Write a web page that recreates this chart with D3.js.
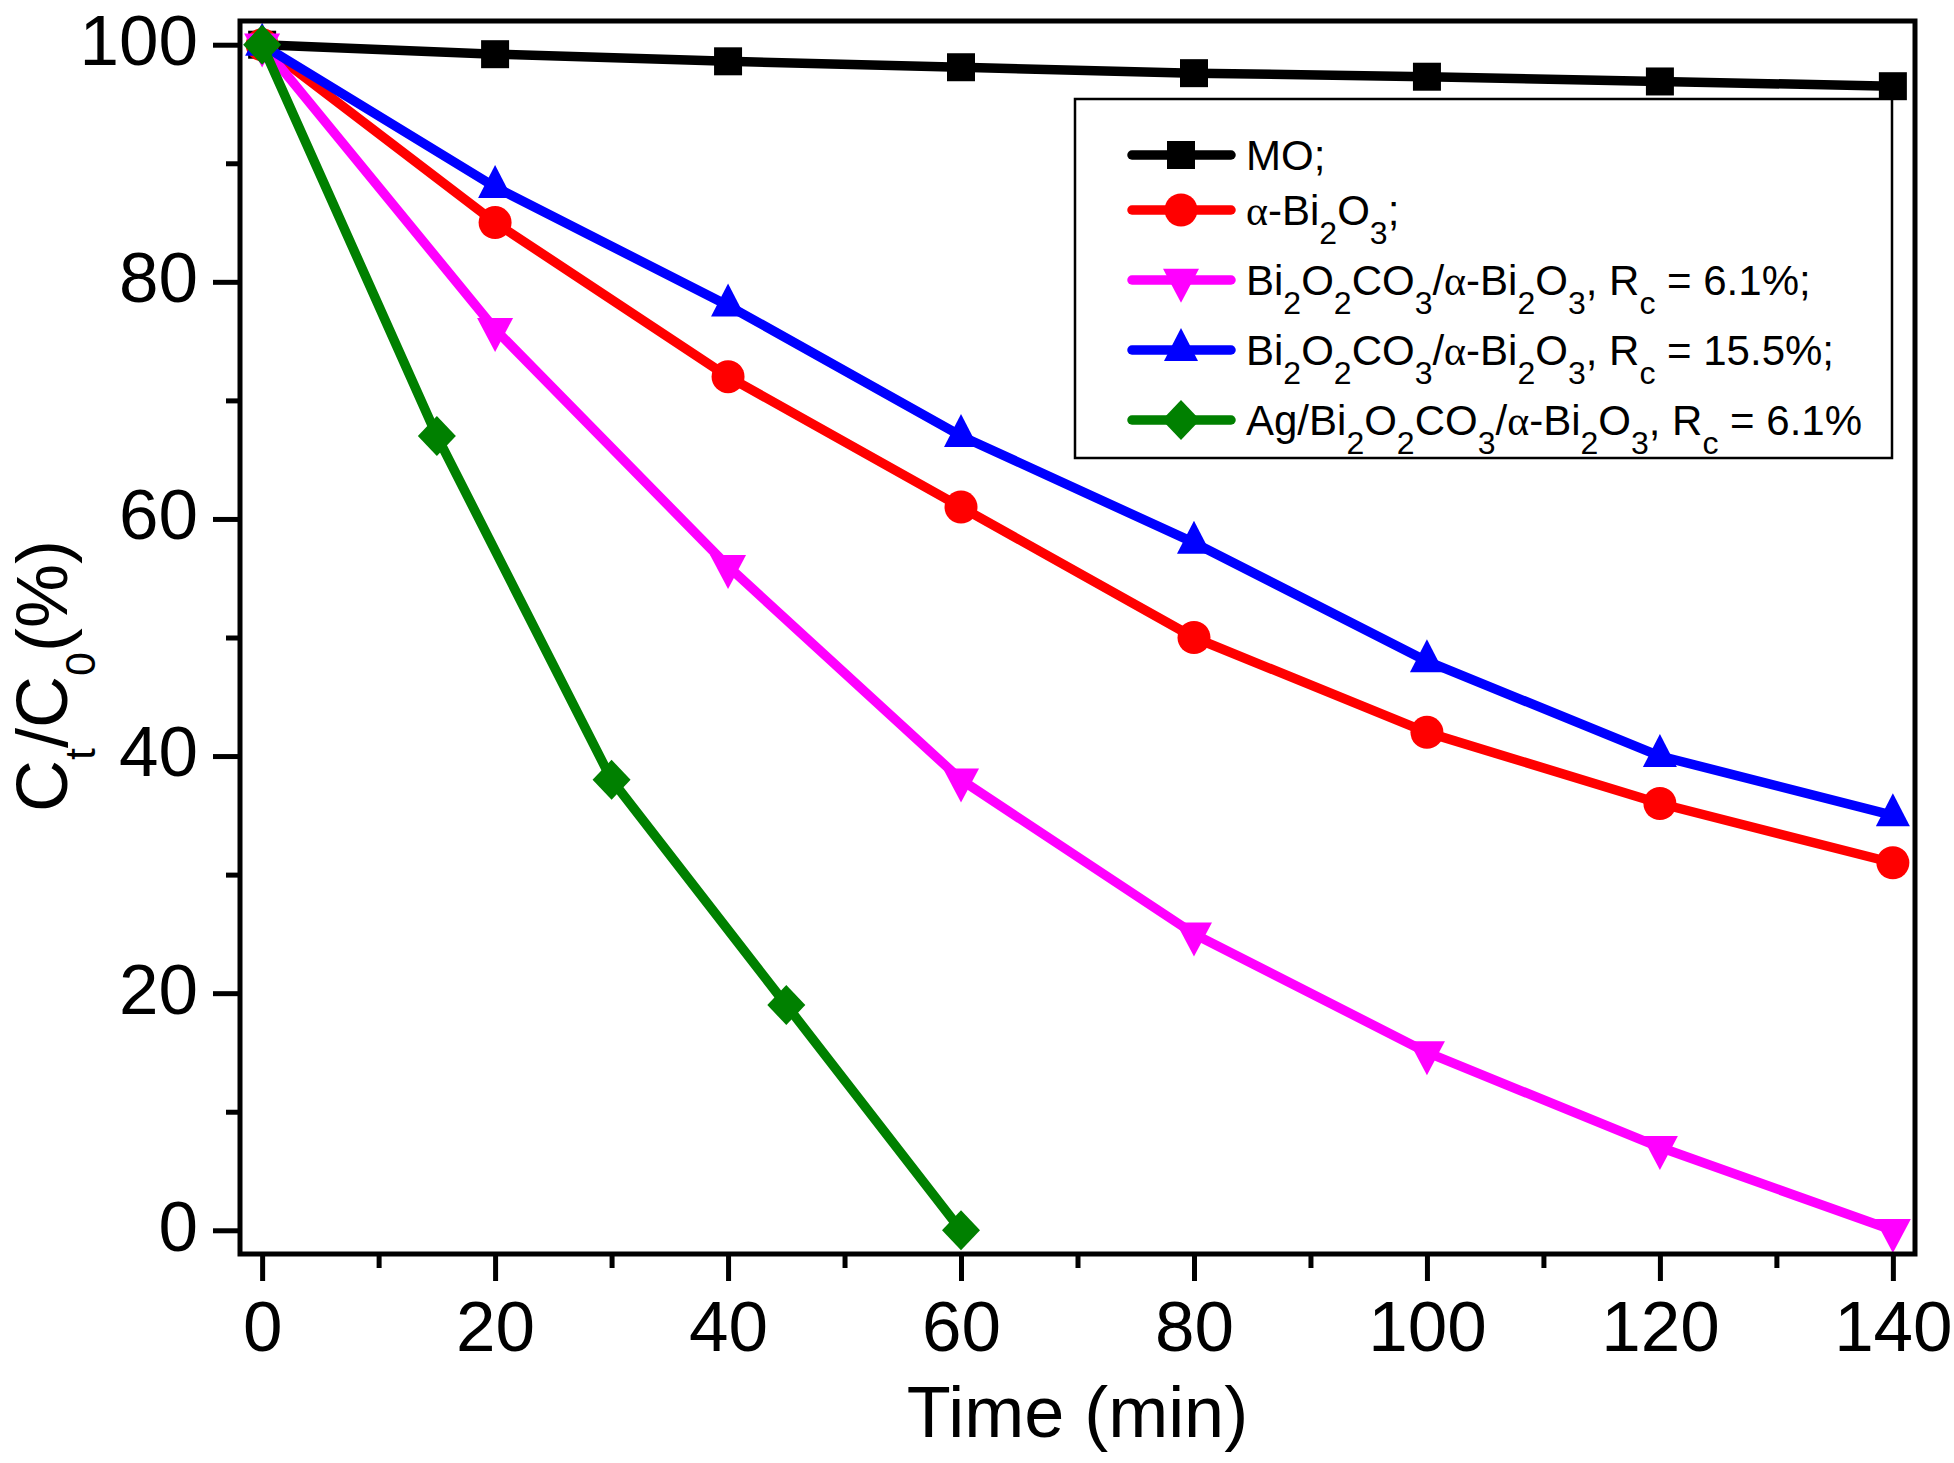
<!DOCTYPE html>
<html>
<head>
<meta charset="utf-8">
<script src="https://cdn.jsdelivr.net/npm/d3@7/dist/d3.min.js"></script>
<style>
  body { margin: 0; background: #fff; }
  svg { display: block; font-family: "Liberation Sans", Arial, sans-serif; }
</style>
</head>
<body>
<svg id="chart" width="1954" height="1463"></svg>
<script>
// data
var times = [0, 20, 40, 60, 80, 100, 120, 140];
var timesAg = [0, 15, 30, 45, 60];
var moValues = [100, 99.2, 98.6, 98.1, 97.6, 97.3, 96.9, 96.5];
var bi2o3Values = [100, 85, 72, 61, 50, 42, 36, 31];
var rc61Values = [100, 76, 56, 38, 25, 15, 7, 0];
var rc155Values = [100, 88, 78, 67, 58, 48, 40, 35];
var agValues = [100, 67, 38, 19, 0];
var legendLabels = [
    'MO;',
    'α-Bi_2O_3;',
    'Bi_2O_2CO_3/α-Bi_2O_3, R_c = 6.1%;',
    'Bi_2O_2CO_3/α-Bi_2O_3, R_c = 15.5%;',
    'Ag/Bi_2O_2CO_3/α-Bi_2O_3, R_c = 6.1%'
];
var xMajor = [0, 20, 40, 60, 80, 100, 120, 140];
var xMinor = [10, 30, 50, 70, 90, 110, 130];
var yMajor = [0, 20, 40, 60, 80, 100];
var yMinor = [10, 30, 50, 70, 90];

var series = [
    { xs: times, ys: moValues, color: '#000000', shape: 'square' },
    { xs: times, ys: bi2o3Values, color: '#ff0000', shape: 'circle' },
    { xs: times, ys: rc61Values, color: '#ff00ff', shape: 'down' },
    { xs: times, ys: rc155Values, color: '#0000ff', shape: 'up' },
    { xs: timesAg, ys: agValues, color: '#008000', shape: 'diamond' }
];

var pLeft = 240, pRight = 1915, pTop = 21, pBottom = 1254;
var svg = d3.select('#chart');

var x = d3.scaleLinear().domain([-1.9, 141.9]).range([pLeft, pRight]);
var y = d3.scaleLinear().domain([-2, 102]).range([pBottom, pTop]);

function markerPath(shape) {
    if (shape === 'square') return 'M-14,-14H14V14H-14Z';
    if (shape === 'down') return 'M-18,-11.3L18,-11.3L0,22.7Z';
    if (shape === 'up') return 'M0,-22L17,11L-17,11Z';
    if (shape === 'diamond') return 'M0,-20L19,0L0,20L-19,0Z';
    return null;
}

function addMarker(g, shape, color, cx, cy) {
    if (shape === 'circle') {
        g.append('circle')
            .attr('cx', cx)
            .attr('cy', cy)
            .attr('r', 16.5)
            .attr('fill', color);
    } else {
        g.append('path')
            .attr('d', markerPath(shape))
            .attr('transform', 'translate(' + cx + ',' + cy + ')')
            .attr('fill', color);
    }
}

// text with _x subscripts and a serif alpha
function addRich(txt, str, subSize, shift) {
    var parts = str.split(/(_.|α)/).filter(function (p) { return p.length > 0; });
    var down = false;
    parts.forEach(function (p) {
        if (p.length === 2 && p[0] === '_') {
            txt.append('tspan')
                .attr('font-size', subSize)
                .attr('dy', shift)
                .text(p[1]);
            down = true;
        } else {
            var ts = txt.append('tspan').text(p);
            if (down) {
                ts.attr('dy', -shift);
                down = false;
            }
            if (p === 'α')
                ts.attr('font-family', '"Liberation Serif", "DejaVu Serif", serif');
        }
    });
}

// axes
function styleAxis(g) {
    g.select('.domain').remove();
    g.selectAll('.tick line').attr('stroke', '#000').attr('stroke-width', 5);
    g.selectAll('.tick text').attr('fill', '#000').attr('font-size', 71)
        .attr('font-family', '"Liberation Sans", Arial, sans-serif');
}

svg.append('g')
    .attr('transform', 'translate(0,' + pBottom + ')')
    .call(d3.axisBottom(x).tickValues(xMinor).tickSize(14).tickFormat(''))
    .call(styleAxis);
svg.append('g')
    .attr('transform', 'translate(0,' + pBottom + ')')
    .call(d3.axisBottom(x).tickValues(xMajor).tickSize(27).tickPadding(20).tickFormat(d3.format('d')))
    .call(styleAxis);
svg.append('g')
    .attr('transform', 'translate(' + pLeft + ',0)')
    .call(d3.axisLeft(y).tickValues(yMinor).tickSize(14).tickFormat(''))
    .call(styleAxis);
var yAxis = svg.append('g')
    .attr('transform', 'translate(' + pLeft + ',0)')
    .call(d3.axisLeft(y).tickValues(yMajor).tickSize(27).tickPadding(15).tickFormat(d3.format('d')))
    .call(styleAxis);
yAxis.selectAll('.tick text').attr('dy', '0.28em');

// series
var line = d3.line()
    .x(function (d) { return x(d[0]); })
    .y(function (d) { return y(d[1]); });

series.forEach(function (s) {
    var pts = d3.zip(s.xs, s.ys);
    var g = svg.append('g');
    g.append('path')
        .attr('d', line(pts))
        .attr('fill', 'none')
        .attr('stroke', s.color)
        .attr('stroke-width', 9.5)
        .attr('stroke-linejoin', 'round');
    pts.forEach(function (p) {
        addMarker(g, s.shape, s.color, x(p[0]), y(p[1]));
    });
});

// frame
svg.append('rect')
    .attr('x', pLeft)
    .attr('y', pTop)
    .attr('width', pRight - pLeft)
    .attr('height', pBottom - pTop)
    .attr('fill', 'none')
    .attr('stroke', '#000')
    .attr('stroke-width', 5);

// legend
var lg = svg.append('g');
lg.append('rect')
    .attr('x', 1075)
    .attr('y', 99)
    .attr('width', 817)
    .attr('height', 359)
    .attr('fill', '#fff')
    .attr('stroke', '#000')
    .attr('stroke-width', 2.5);
var rowY = [155, 210, 280, 350, 420];
series.forEach(function (s, i) {
    lg.append('line')
        .attr('x1', 1132)
        .attr('x2', 1231)
        .attr('y1', rowY[i])
        .attr('y2', rowY[i])
        .attr('stroke', s.color)
        .attr('stroke-width', 9.5)
        .attr('stroke-linecap', 'round');
    addMarker(lg, s.shape, s.color, 1181, rowY[i]);
    var t = lg.append('text')
        .attr('x', 1246)
        .attr('y', rowY[i] + 15)
        .attr('font-size', 42)
        .attr('fill', '#000');
    addRich(t, legendLabels[i], 32, 19);
});

// axis titles
svg.append('text')
    .attr('x', (pLeft + pRight) / 2)
    .attr('y', 1437)
    .attr('text-anchor', 'middle')
    .attr('font-size', 72)
    .text('Time (min)');

var yt = svg.append('text')
    .attr('transform', 'translate(67,676) rotate(-90)')
    .attr('text-anchor', 'middle')
    .attr('font-size', 72);
addRich(yt, 'C_t/C_0(%)', 43, 28);
</script>
</body>
</html>
